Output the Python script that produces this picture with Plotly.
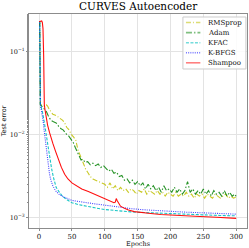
import plotly.graph_objects as go

# ---------------- data ----------------
rms_epochs = [0, 1, 2, 5, 8, 11, 13, 15, 18, 21, 24, 27, 30, 33, 36, 39, 42, 45, 48, 50,
              53, 56, 59, 62, 65, 68, 71, 74, 78, 82, 86, 90, 95, 100,
              104, 108, 112, 116, 120, 124, 128, 132, 136, 140, 144, 148, 152, 156, 160, 164,
              168, 172, 176, 180, 184, 188, 192, 196, 200, 204, 208, 212, 216, 220, 224, 228,
              232, 236, 240, 244, 248, 252, 256, 260, 264, 268, 272, 276, 280, 284, 288, 292,
              296, 300]
rms_err = [0.23, 0.23, 0.023, 0.0225, 0.022, 0.0228, 0.022, 0.0205, 0.019, 0.0175,
           0.0172, 0.0168, 0.016, 0.0155, 0.0148, 0.0138, 0.0122, 0.0115, 0.0104, 0.0098,
           0.0092, 0.0085, 0.0066, 0.0057, 0.0050, 0.0045, 0.0038, 0.0035, 0.0031, 0.0029,
           0.0028, 0.0027, 0.0026, 0.0025,
           0.0023, 0.0026, 0.0022, 0.0024, 0.0021, 0.0023, 0.0021, 0.0022, 0.0020, 0.0022,
           0.0021, 0.0019, 0.0021, 0.0020, 0.0022, 0.0019, 0.0021, 0.0020, 0.0019, 0.0021,
           0.0019, 0.0020, 0.0018, 0.0020, 0.0019, 0.0018, 0.0020, 0.0018, 0.0019, 0.0018,
           0.0020, 0.0018, 0.0019, 0.0017, 0.0019, 0.0018, 0.0019, 0.0017, 0.0019, 0.0018,
           0.0017, 0.0019, 0.0018, 0.0017, 0.0018, 0.0019, 0.0017, 0.0018, 0.0017, 0.00175]

adam_epochs = [0, 1, 2, 5, 8, 11, 14, 18, 22, 26, 30, 33, 37, 41, 45, 49, 52, 55, 58, 61,
               64, 67, 70,
               74, 78, 82, 86, 90, 94, 98, 102, 106, 110, 114, 118, 122, 126, 130, 134, 138,
               142, 146, 150, 154, 158, 162, 166, 170, 174, 178, 182, 186, 190, 194, 198, 202,
               206, 210, 214, 218, 222, 226, 230, 234, 238, 242, 246, 250, 254, 258, 262, 266,
               270, 274, 278, 282, 286, 290, 294, 298, 300]
adam_err = [0.23, 0.23, 0.023, 0.0215, 0.0205, 0.019, 0.0168, 0.0148, 0.0142, 0.0138,
            0.0125, 0.0118, 0.0113, 0.0102, 0.0096, 0.0088, 0.0080, 0.0070, 0.0062, 0.0055,
            0.0049, 0.0050, 0.0046,
            0.0047, 0.0043, 0.0045, 0.0042, 0.0044, 0.0040, 0.0042, 0.0039, 0.0036, 0.0038,
            0.0034, 0.0035, 0.0031, 0.0032, 0.0028, 0.0029, 0.0026, 0.0028, 0.0025, 0.0027,
            0.0024, 0.0026, 0.0022, 0.0025, 0.0022, 0.0024, 0.0021, 0.0023, 0.0020, 0.0024,
            0.0021, 0.0022, 0.0020, 0.0023, 0.0020, 0.0022, 0.0019, 0.0021, 0.0027, 0.0020,
            0.0022, 0.0019, 0.0021, 0.0019, 0.0022, 0.0019, 0.0021, 0.0018, 0.0021, 0.0019,
            0.0020, 0.0018, 0.0021, 0.0018, 0.0020, 0.0018, 0.0019, 0.00178]

kfac_epochs = [0, 1, 2, 5, 8, 10, 12, 14, 16, 19, 22, 26, 31, 36, 42, 50, 60, 70, 85, 100,
               120, 140, 160, 180, 200, 225, 250, 275, 300]
kfac_err = [0.23, 0.23, 0.023, 0.019, 0.014, 0.011, 0.0088, 0.0068, 0.0053, 0.0039,
            0.0030, 0.0023, 0.0020, 0.00178, 0.00163, 0.0015, 0.00142, 0.00136, 0.0013, 0.00124,
            0.00119, 0.00116, 0.00114, 0.00112, 0.0011, 0.00108, 0.00107, 0.00105, 0.00104]

kbfgs_epochs = [0, 1, 2, 4, 6, 8, 10, 12, 14, 16, 18, 21, 25, 30, 36, 42, 50, 60, 70, 85,
                100, 120, 140, 160, 180, 200, 225, 250, 275, 300]
kbfgs_err = [0.23, 0.23, 0.023, 0.019, 0.015, 0.0108, 0.0078, 0.0055, 0.0040, 0.0033,
             0.0028, 0.0024, 0.0021, 0.0019, 0.00178, 0.0017, 0.0016, 0.00155, 0.0015, 0.00145,
             0.0014, 0.00133, 0.00127, 0.00123, 0.0012, 0.00118, 0.00115, 0.00113, 0.00111, 0.00109]

shampoo_epochs = [0, 2, 4, 5, 6, 7, 7.5, 8, 9, 11, 13, 16, 18, 21, 25, 29, 34, 39, 44, 50,
                  57, 65, 75, 85, 95, 105, 110, 114, 116, 117.5, 119, 121, 124, 130, 136, 145,
                  155, 170, 185, 200, 220, 245, 270, 300]
shampoo_err = [0.23, 0.235, 0.235, 0.225, 0.19, 0.09, 0.03, 0.023, 0.02, 0.016,
               0.013, 0.0105, 0.0092, 0.0078, 0.0063, 0.0051, 0.0040, 0.0033, 0.0029, 0.0026,
               0.0024, 0.0022, 0.00205, 0.0019, 0.00175, 0.0016, 0.00155, 0.0015, 0.00152, 0.00168,
               0.00158, 0.00146, 0.00136, 0.00128, 0.00122, 0.00117, 0.00114, 0.00111, 0.00108, 0.00106,
               0.00104, 0.00102, 0.001, 0.00097]

series_names = ["RMSprop", "Adam", "KFAC", "K-BFGS", "Shampoo"]
x_ticks = [0, 50, 100, 150, 200, 250, 300]
y_ticks = [0.001, 0.01, 0.1]
y_tick_text = ["10<sup>−3</sup>", "10<sup>−2</sup>", "10<sup>−1</sup>"]

# ---------------- styles ----------------
colors = ["rgba(191,191,0,0.85)", "rgba(0,128,0,0.85)", "rgba(0,191,191,0.9)",
          "rgba(0,0,255,0.75)", "rgba(255,0,0,0.95)"]
legend_colors = ["rgba(191,191,0,0.55)", "rgba(0,128,0,0.5)", "rgba(0,191,191,0.55)",
                 "rgba(0,0,255,0.55)", "rgba(255,0,0,0.5)"]
dashes = ["5px,2px,1px,2px", "6px,2px,1.5px,2px", "3px,1.5px", "1px,1.2px", "solid"]

data = [(rms_epochs, rms_err), (adam_epochs, adam_err), (kfac_epochs, kfac_err),
        (kbfgs_epochs, kbfgs_err), (shampoo_epochs, shampoo_err)]

fig = go.Figure()
for name, (ep, val), col, dash in zip(series_names, data, colors, dashes):
    fig.add_trace(go.Scatter(x=ep, y=val, mode="lines", name=name, showlegend=False,
                             line=dict(color=col, width=1.1, dash=dash)))

SERIF = "DejaVu Serif"
frame_col = "#8c8c8c"
grid_col = "#e3e3e3"
txt_col = "#111111"

fig.update_layout(
    width=249, height=248,
    margin=dict(l=29, r=2, t=14, b=20),
    paper_bgcolor="white", plot_bgcolor="white",
    title=dict(text="CURVES Autoencoder", x=0.555, xanchor="center", y=0.975, yanchor="middle",
               font=dict(family=SERIF, size=10.5, color="black")),
    xaxis=dict(range=[-15.3, 316.5], tickvals=x_ticks, showgrid=True, gridcolor=grid_col,
               gridwidth=1, zeroline=False, showline=True, linecolor=frame_col, linewidth=1,
               mirror=True, ticks="outside", ticklen=2, tickcolor=frame_col,
               tickfont=dict(family=SERIF, size=7, color=txt_col),
               title=dict(text="Epochs", font=dict(family=SERIF, size=6.5, color=txt_col), standoff=1)),
    yaxis=dict(type="log", range=[-3.13, -0.545], tickvals=y_ticks, ticktext=y_tick_text,
               showgrid=True, gridcolor=grid_col, gridwidth=1, zeroline=False, showline=True,
               linecolor=frame_col, linewidth=1, mirror=True, ticks="outside", ticklen=2,
               tickcolor=frame_col, tickfont=dict(family=SERIF, size=6.5, color=txt_col),
               minor=dict(ticks="outside", ticklen=1.5, tickcolor=frame_col, showgrid=False),
               title=dict(text="Test error", font=dict(family="DejaVu Sans", size=6.5, color=txt_col),
                          standoff=3)),
)

# ---------------- legend (drawn manually to match compact matplotlib legend) ----------------
fig.add_shape(type="rect", xref="paper", yref="paper", x0=0.706, x1=0.995, y0=0.743, y1=0.986,
              fillcolor="rgba(255,255,255,0.85)", line=dict(color="#cccccc", width=1), layer="above")
legend_y = [0.960, 0.913, 0.866, 0.819, 0.772]
for name, col, dash, yy in zip(series_names, legend_colors, dashes, legend_y):
    fig.add_shape(type="line", xref="paper", yref="paper", x0=0.720, x1=0.786, y0=yy, y1=yy,
                  line=dict(color=col, width=1.6, dash=dash), layer="above")
    fig.add_annotation(text=name, xref="paper", yref="paper", x=0.810, y=yy, xanchor="left",
                       yanchor="middle", showarrow=False,
                       font=dict(family=SERIF, size=7, color=txt_col))

fig.write_html("out.html", config={"displayModeBar": False},
               post_script="document.body.style.margin='0';document.body.style.padding='0';")
